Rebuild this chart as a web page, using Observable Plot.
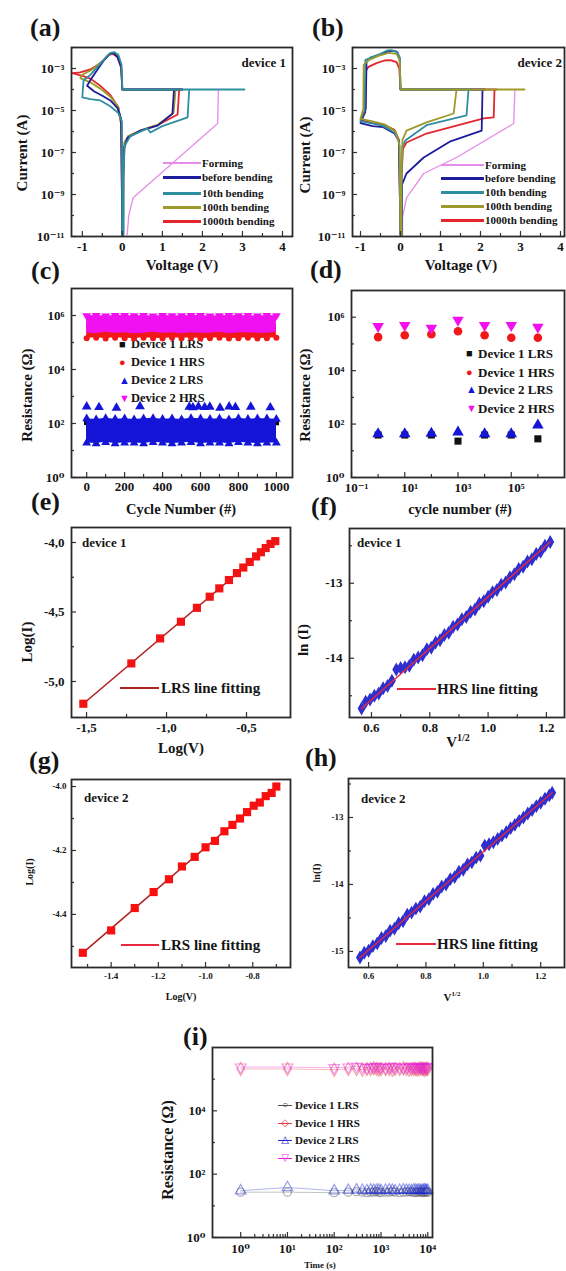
<!DOCTYPE html>
<html><head><meta charset="utf-8">
<script src="https://cdn.jsdelivr.net/npm/d3@7"></script>
<script src="https://cdn.jsdelivr.net/npm/@observablehq/plot@0.6"></script>
<style>
body{margin:0;background:#fff;}
#root{position:relative;width:566px;height:1271px;overflow:hidden;font-family:"Liberation Serif","DejaVu Serif",serif;font-weight:bold;color:#151515;}
.t{position:absolute;white-space:nowrap;line-height:1;}
.sw{position:absolute;}
svg.p{position:absolute;overflow:visible;}
</style></head><body><div id="root"></div>
<script>
// ---------- DATA ----------
// (a) device 1 I-V curves: [voltage V, current A]
const aForming = [[0.12,1.2e-11],[0.16,1.0e-10],[0.27,7.0e-10],[2.38,2.4e-6],[2.40,1.0e-4]];
const aBefore = [[0.02,1.2e-11],[0.02,5e-9],[0.04,1.5e-7],[0.13,5e-7],[0.45,1.1e-6],[0.88,1.9e-6],[1.25,7e-6],[1.29,1.0e-4],[1.5,1.0e-4],[0.0,1.0e-4],[-0.03,1.2e-3],[-0.12,3.5e-3],[-0.22,5.5e-3],[-0.32,5.0e-3],[-0.45,2.6e-3],[-0.62,9e-4],[-0.78,3.2e-4],[-0.88,1.5e-4],[-0.7,8e-5],[-0.5,5.0e-5],[-0.3,3.0e-5],[-0.12,1.3e-5],[-0.03,4e-6],[0,1.2e-11]];
const aTenth = [[0.03,1.2e-11],[0.03,1e-8],[0.05,2e-7],[0.2,6e-7],[0.63,1.4e-6],[0.70,9e-7],[1.0,1.8e-6],[1.63,4.7e-6],[1.67,1.0e-4],[3.05,1.0e-4],[0.0,1.0e-4],[-0.02,1.5e-3],[-0.1,4.5e-3],[-0.2,6.0e-3],[-0.3,5.5e-3],[-0.38,4.0e-3],[-0.6,1.3e-3],[-0.8,5e-4],[-0.97,2.7e-4],[-1.0,4.2e-5],[-0.8,3.5e-5],[-0.55,3.0e-5],[-0.3,1.6e-5],[-0.1,7.5e-6],[-0.01,3e-6],[0.0,1.2e-11]];
const aHundredth = [[0.02,1.2e-11],[0.02,1e-8],[0.05,3e-7],[0.15,6e-7],[0.5,1.2e-6],[0.9,2.2e-6],[1.28,7.5e-6],[1.33,1.0e-4],[1.45,1.0e-4],[0.0,1.0e-4],[-0.03,1.3e-3],[-0.12,4e-3],[-0.22,5.5e-3],[-0.3,5e-3],[-0.5,2.2e-3],[-0.75,9e-4],[-1.0,5e-4],[-1.05,3.5e-4],[-0.8,2.2e-4],[-0.55,1.1e-4],[-0.3,4.5e-5],[-0.1,1.5e-5],[-0.02,2e-6],[0.0,1.2e-11]];
const aThousandth = [[0.02,1.2e-11],[0.03,1e-8],[0.06,3e-7],[0.15,6e-7],[0.5,1.2e-6],[0.9,2.1e-6],[1.38,6.5e-6],[1.42,1.0e-4],[1.5,1.0e-4],[0.0,1.0e-4],[-0.03,1.1e-3],[-0.12,3.5e-3],[-0.25,5e-3],[-0.35,4.2e-3],[-0.55,1.8e-3],[-0.8,9e-4],[-1.05,6.5e-4],[-1.25,6.0e-4],[-1.0,4.5e-4],[-0.8,3.3e-4],[-0.55,1.5e-4],[-0.3,5.5e-5],[-0.1,1.4e-5],[-0.03,2e-6],[0.0,1.2e-11]];
// (b) device 2 I-V curves
const bForming = [[0.05,1.2e-11],[0.05,8e-11],[0.15,7e-10],[0.58,1.0e-8],[1.4,5.8e-8],[2.83,2.4e-6],[2.86,1.0e-4]];
const bBefore = [[0.03,1.2e-11],[0.04,3e-9],[0.15,1e-8],[0.58,5.8e-8],[1.25,3.4e-7],[2.03,1.1e-6],[2.05,1.0e-4],[2.1,1.0e-4],[0.0,1.0e-4],[-0.02,3e-3],[-0.08,6e-3],[-0.2,7e-3],[-0.3,6.5e-3],[-0.45,5e-3],[-0.6,4e-3],[-0.75,3.3e-3],[-0.85,2e-3],[-0.87,1.2e-5],[-0.92,6e-6],[-1.0,2.5e-6],[-0.7,1.8e-6],[-0.43,1.6e-6],[-0.15,8e-7],[-0.04,3.5e-7],[0,1.2e-11]];
const bTenth = [[0.03,1.2e-11],[0.03,1e-8],[0.05,2e-7],[0.12,3.7e-7],[0.65,2.0e-6],[1.65,5.8e-6],[1.70,1.0e-4],[1.8,1.0e-4],[0.0,1.0e-4],[-0.02,3.5e-3],[-0.1,6.5e-3],[-0.25,7.5e-3],[-0.35,7e-3],[-0.5,5e-3],[-0.7,3.6e-3],[-0.88,2.5e-3],[-0.9,1e-5],[-0.97,5e-6],[-1.0,3e-6],[-0.75,2.5e-6],[-0.45,1.9e-6],[-0.15,9e-7],[-0.03,3e-7],[0,1.2e-11]];
const bHundredth = [[0.02,1.2e-11],[0.02,1e-8],[0.05,4e-7],[0.15,1.1e-6],[0.65,2.7e-6],[1.33,7.2e-6],[1.40,1.0e-4],[3.1,1.0e-4],[0.0,1.0e-4],[-0.02,2.5e-3],[-0.1,5e-3],[-0.3,5.5e-3],[-0.55,4e-3],[-0.8,2.5e-3],[-0.92,1.5e-3],[-0.93,1.2e-5],[-1.0,4e-6],[-0.7,3e-6],[-0.4,2.2e-6],[-0.12,1e-6],[-0.02,2e-7],[0,1.2e-11]];
const bThousandth = [[0.03,1.2e-11],[0.03,1e-8],[0.06,1.5e-7],[0.15,3e-7],[0.65,8e-7],[2.08,4.2e-6],[2.33,4.7e-6],[2.35,1.0e-4],[2.4,1.0e-4],[0.0,1.0e-4],[-0.03,1e-3],[-0.1,2e-3],[-0.25,2.5e-3],[-0.4,2.4e-3],[-0.6,1.8e-3],[-0.8,1.2e-3],[-0.86,8e-4],[-0.88,8e-6],[-1.0,3.5e-6],[-0.7,2.5e-6],[-0.4,2e-6],[-0.15,1.2e-6],[-0.04,4e-7],[0,1.2e-11]];
const curveNames = ["Forming","before bending","10th bending","100th bending","1000th bending"];
const curveColors = ["#e58de8","#1c1c9c","#2f8f9f","#9c9a2c","#e3262b"];

// (c) endurance: band edges (ohm) sampled along cycle number
const cCycle = [0,50,100,150,200,250,300,350,400,450,500,550,600,650,700,750,800,850,900,950,1000];
const c1LRShi = [110,104,115,108,112,100,109,116,105,111,107,113,102,110,114,106,109,112,104,111,108];
const c1LRSlo = [22,21,23,21,22,23,21,22,21,23,22,21,23,22,21,22,23,21,22,21,23];
const c1HRShi = [5.2e5,4.8e5,5.0e5,5.3e5,4.9e5,5.1e5,4.7e5,5.2e5,5.0e5,4.8e5,5.3e5,5.0e5,4.9e5,5.1e5,5.2e5,4.8e5,5.0e5,5.1e5,4.9e5,5.2e5,5.0e5];
const c1HRSlo = [1.45e5,1.5e5,1.4e5,1.5e5,1.45e5,1.4e5,1.5e5,1.45e5,1.4e5,1.5e5,1.45e5,1.5e5,1.4e5,1.45e5,1.5e5,1.4e5,1.45e5,1.5e5,1.4e5,1.45e5,1.5e5];
const c2LRShi = [150,140,155,145,150,140,150,155,145,150,140,155,150,145,150,140,155,145,150,150,145];
const c2LRSlo = [19,18,20,18,19,19,18,20,19,18,19,20,18,19,19,18,20,19,18,19,19];
const c2HRShi = [9.8e5,1.0e6,9.6e5,9.9e5,1.0e6,9.7e5,9.9e5,9.6e5,1.0e6,9.8e5,9.7e5,1.0e6,9.9e5,9.6e5,9.8e5,1.0e6,9.7e5,9.9e5,9.6e5,1.0e6,9.8e5];
const c2HRSlo = [2.3e5,2.1e5,2.4e5,2.2e5,2.3e5,2.1e5,2.2e5,2.4e5,2.2e5,2.3e5,2.1e5,2.3e5,2.2e5,2.2e5,2.4e5,2.1e5,2.3e5,2.3e5,2.2e5,2.2e5,2.4e5];
const cOutCycle = [0,65,157,281,541,560,589,622,649,703,751,784,865,968];
const cOutR = [420,400,380,430,410,390,420,400,410,380,420,400,410,390];

// (d) bending cycles
const dCycle = [1,10,100,1000,10000,100000,1000000];
const d1LRS = [39,39,39,23,39,39,28];
const d1HRS = [1.8e5,2.1e5,2.3e5,3.0e5,2.1e5,1.7e5,1.7e5];
const d2LRS = [43,43,45,50,43,43,91];
const d2HRS = [4.6e5,5.0e5,3.9e5,7.8e5,5.0e5,5.0e5,4.3e5];
const seriesNames = ["Device 1 LRS","Device 1 HRS","Device 2 LRS","Device 2 HRS"];

// (e) device 1 LRS log-log
const eLogV = [-1.52,-1.22,-1.04,-0.91,-0.81,-0.73,-0.67,-0.61,-0.56,-0.52,-0.48,-0.44,-0.41,-0.38,-0.35,-0.32];
const eLogI = [-5.16,-4.87,-4.69,-4.57,-4.47,-4.39,-4.33,-4.27,-4.22,-4.18,-4.14,-4.10,-4.07,-4.04,-4.01,-3.99];
const eFitV = [-1.52,-0.32], eFitI = [-5.16,-3.99];
// (f) device 1 HRS ln(I) vs V^1/2
const fSqrtV = [0.566,0.58,0.595,0.61,0.625,0.64,0.655,0.67,0.685,0.70,0.715,0.73,0.745,0.76,0.775,0.79,0.805,0.82,0.835,0.85,0.865,0.88,0.895,0.91,0.925,0.94,0.955,0.97,0.985,1.0,1.015,1.03,1.045,1.06,1.075,1.09,1.105,1.12,1.135,1.15,1.165,1.18,1.195,1.213];
const fLnI = [-14.67,-14.58,-14.55,-14.50,-14.47,-14.40,-14.37,-14.30,-14.15,-14.13,-14.12,-14.10,-14.02,-13.99,-13.96,-13.88,-13.86,-13.79,-13.76,-13.69,-13.66,-13.58,-13.55,-13.48,-13.45,-13.38,-13.35,-13.27,-13.24,-13.18,-13.12,-13.09,-13.02,-12.99,-12.92,-12.88,-12.81,-12.78,-12.71,-12.68,-12.61,-12.58,-12.50,-12.45];
const fFitX = [0.566,1.213], fFitY = [-14.67,-12.45];
// (g) device 2 LRS
const gLogV = [-1.52,-1.40,-1.30,-1.22,-1.155,-1.10,-1.046,-1.0,-0.96,-0.92,-0.886,-0.854,-0.824,-0.796,-0.77,-0.745,-0.72,-0.70];
const gLogI = [-4.52,-4.45,-4.38,-4.33,-4.29,-4.25,-4.22,-4.19,-4.17,-4.14,-4.12,-4.10,-4.08,-4.06,-4.05,-4.03,-4.02,-4.00];
const gFitV = [-1.52,-0.70], gFitI = [-4.52,-4.00];
// (h) device 2 HRS
const hSqrtV = [0.57,0.585,0.60,0.615,0.63,0.645,0.66,0.675,0.69,0.705,0.72,0.735,0.75,0.765,0.78,0.795,0.81,0.825,0.84,0.855,0.87,0.885,0.90,0.915,0.93,0.945,0.96,0.975,0.99,1.005,1.02,1.035,1.05,1.065,1.08,1.095,1.11,1.125,1.14,1.155,1.17,1.185,1.20,1.215,1.23,1.24];
const hLnI = [-15.09,-15.02,-14.99,-14.92,-14.88,-14.80,-14.77,-14.69,-14.66,-14.58,-14.55,-14.45,-14.42,-14.36,-14.33,-14.25,-14.22,-14.14,-14.11,-14.03,-14.00,-13.92,-13.89,-13.81,-13.78,-13.70,-13.67,-13.60,-13.57,-13.42,-13.40,-13.37,-13.32,-13.27,-13.22,-13.16,-13.11,-13.05,-13.00,-12.94,-12.89,-12.83,-12.78,-12.72,-12.67,-12.63];
const hFitX = [0.57,1.24], hFitY = [-15.09,-12.63];
// (i) retention
const iTime = [1,10,100,200,300,400,500,600,700,800,900,1000,1250,1500,1750,2000,2500,3000,3500,4000,4500,5000,5500,6000,6500,7000,7500,8000,8500,9000,9500,10000];
const i1LRS = [27,27,26,27,28,27,26,27,27,28,27,26,27,27,28,27,26,27,27,28,27,27,26,27,28,27,27,26,27,28,27,27];
const i1HRS = [2.1e5,2.1e5,2.0e5,2.1e5,2.1e5,2.0e5,2.1e5,2.1e5,2.2e5,2.1e5,2.0e5,2.1e5,2.1e5,2.1e5,2.0e5,2.1e5,2.1e5,2.2e5,2.1e5,2.0e5,2.1e5,2.1e5,2.1e5,2.0e5,2.1e5,2.2e5,2.1e5,2.1e5,2.0e5,2.1e5,2.1e5,2.1e5];
const i2LRS = [30,38,30,31,32,31,30,32,31,31,32,30,31,32,31,30,31,32,31,31,30,32,31,31,32,30,31,31,32,31,30,31];
const i2HRS = [2.4e5,2.4e5,2.3e5,2.4e5,2.5e5,2.4e5,2.3e5,2.4e5,2.4e5,2.5e5,2.4e5,2.4e5,2.3e5,2.4e5,2.5e5,2.4e5,2.4e5,2.3e5,2.4e5,2.5e5,2.4e5,2.4e5,2.3e5,2.4e5,2.4e5,2.5e5,2.4e5,2.3e5,2.4e5,2.4e5,2.5e5,2.4e5];

// tick values
const aXt = [-1,0,1,2,3,4], aXm = [-0.5,0.5,1.5,2.5,3.5];
const ivYt = [1e-11,1e-9,1e-7,1e-5,1e-3], ivYm = [1e-10,1e-8,1e-6,1e-4,1e-2];
const cXt = [0,200,400,600,800,1000], cXm = [100,300,500,700,900];
const rYt = [1,1e2,1e4,1e6], rYm = [10,1e3,1e5];
const dXt = [0.1,10,1e3,1e5], dXm = [1,100,1e4,1e6];
const eXt = [-1.5,-1.0,-0.5], eXm = [-1.25,-0.75], eYt = [-5.0,-4.5,-4.0], eYm = [-4.75,-4.25];
const fXt = [0.6,0.8,1.0,1.2], fXm = [0.7,0.9,1.1], fYt = [-14,-13], fYm = [-14.5,-13.5,-12.5];
const gXt = [-1.4,-1.2,-1.0,-0.8], gXm = [-1.5,-1.3,-1.1,-0.9,-0.7], gYt = [-4.4,-4.2,-4.0], gYm = [-4.5,-4.3,-4.1];
const hXt = [0.6,0.8,1.0,1.2], hXm = [0.7,0.9,1.1], hYt = [-15,-14,-13], hYm = [-14.5,-13.5,-12.5];
const iXt = [1,10,100,1e3,1e4], iXm = [2,3,4,5,6,7,8,9,20,30,40,50,60,70,80,90,200,300,400,500,600,700,800,900,2000,3000,4000,5000,6000,7000,8000,9000];
const iYt = [1,1e2,1e4], iYm = [10,1e3,1e5];

// ---------- helpers ----------
const root = document.getElementById("root");
const sup = {"-":"⁻","0":"⁰","1":"¹","2":"²","3":"³","4":"⁴","5":"⁵","6":"⁶","7":"⁷","8":"⁸","9":"⁹"};
const p10 = v => "10" + String(Math.round(Math.log10(v))).split("").map(c => sup[c]).join("");
const comma1 = v => v.toFixed(1).replace(".", ",");
const dot1 = v => v.toFixed(1);
const int0 = v => String(Math.round(v));
const triDown = {draw(ctx, size) { const y = -Math.sqrt(size / (Math.sqrt(3) * 3)); ctx.moveTo(0, -2 * y); ctx.lineTo(-Math.sqrt(3) * y, y); ctx.lineTo(Math.sqrt(3) * y, y); ctx.closePath(); }};
const pairs = (xs, ys) => xs.map((x, i) => ({x, y: ys[i]}));

function panel(fr, x, y, marksFn) {
  const [x0, y0, x1, y1] = fr, m = 4, W = x1 - x0, H = y1 - y0;
  const svg = Plot.plot({
    width: W + 2 * m, height: H + 2 * m,
    marginLeft: m, marginRight: m, marginTop: m, marginBottom: m,
    x, y,
    style: {background: "transparent", fontFamily: "Liberation Serif, DejaVu Serif, serif", fontWeight: "bold", color: "#151515", overflow: "visible"},
    marks: marksFn(W, H)
  });
  svg.classList.add("p");
  svg.style.left = (x0 - m) + "px";
  svg.style.top = (y0 - m) + "px";
  root.appendChild(svg);
}
function axes(W, H, xt, xm, yt, ym, xf, yf, fs, px = 4, py = 6, xdx = 0) {
  const tk = {stroke: "#333", strokeWidth: 1.2};
  return [
    Plot.tickX(xt, {x: d => d, insetTop: H - 5, ...tk}),
    Plot.tickX(xm, {x: d => d, insetTop: H - 3, ...tk}),
    Plot.tickY(yt, {y: d => d, insetRight: W - 5, ...tk}),
    Plot.tickY(ym, {y: d => d, insetRight: W - 3, ...tk}),
    Plot.axisX(xt, {tickSize: 0, tickPadding: px, tickFormat: xf, fontSize: fs, label: null, dx: xdx}),
    Plot.axisY(yt, {tickSize: 0, tickPadding: py, tickFormat: yf, fontSize: fs, label: null}),
    Plot.frame({stroke: "#2a2a2a", strokeWidth: 1.8})
  ];
}
function txt(s, x, y, o = {}) {
  const d = document.createElement("div");
  d.className = "t";
  if (o.html) d.innerHTML = s; else d.textContent = s;
  d.style.fontSize = (o.size || 14) + "px";
  if (o.color) d.style.color = o.color;
  const tx = o.anchor === "middle" ? "-50%" : o.anchor === "end" ? "-100%" : "0";
  d.style.left = x + "px"; d.style.top = y + "px";
  d.style.transform = `translate(${o.rot ? "-50%" : tx},-50%)` + (o.rot ? ` rotate(${o.rot}deg)` : "");
  root.appendChild(d);
  return d;
}
function swatch(x0, x1, y, color, w) {
  const d = document.createElement("div");
  d.className = "sw";
  d.style.left = x0 + "px"; d.style.width = (x1 - x0) + "px";
  d.style.top = (y - w / 2) + "px"; d.style.height = w + "px";
  d.style.background = color;
  root.appendChild(d);
}

// ---------- (a) ----------
const aCurves = [aForming, aThousandth, aHundredth, aBefore, aTenth];
const aCols = [curveColors[0], curveColors[4], curveColors[3], curveColors[1], curveColors[2]];
panel([71, 47, 292, 236], {domain: [-1.27, 4.25]}, {type: "log", domain: [1e-11, 1e-2]}, (W, H) => [
  ...aCurves.map((c, i) => Plot.line(c, {x: d => d[0], y: d => d[1], stroke: aCols[i], strokeWidth: i === 0 ? 1.3 : 1.8, clip: true})),
  ...axes(W, H, aXt, aXm, ivYt, ivYm, int0, p10, 13, 5, 7)
]);
// (b)
const bCurves = [bForming, bThousandth, bBefore, bTenth, bHundredth];
const bCols = [curveColors[0], curveColors[4], curveColors[1], curveColors[2], curveColors[3]];
panel([352, 47, 564, 236], {domain: [-1.2, 4.1]}, {type: "log", domain: [1e-11, 1e-2]}, (W, H) => [
  ...bCurves.map((c, i) => Plot.line(c, {x: d => d[0], y: d => d[1], stroke: bCols[i], strokeWidth: i === 0 ? 1.3 : 1.8, clip: true})),
  ...axes(W, H, aXt, aXm, ivYt, ivYm, int0, p10, 13, 5, 7)
]);

// (c) legend drawn beneath data
const legC = [["■", "#111"], ["●", "#f01818"], ["▲", "#1515d8"], ["▼", "#f010f0"]];
const cRows = [344, 362, 380, 398];
legC.forEach(([g, col], i) => { txt(g, 119, cRows[i], {size: 11, color: col}); txt(seriesNames[i], 131, cRows[i], {size: 12.5}); });
const band = (lo, hi) => cCycle.map((c, i) => ({c, lo: lo[i], hi: hi[i]}));
panel([71, 288, 292, 477], {domain: [-80, 1085]}, {type: "log", domain: [1, 1e7]}, (W, H) => [
  Plot.areaY(band(c1LRSlo, c1LRShi), {x: "c", y1: "lo", y2: "hi", fill: "#111"}),
  Plot.dot(pairs(cCycle, c1LRShi), {x: "x", y: "y", symbol: "square", r: 3, fill: "#111"}),
  Plot.areaY(band(c1HRSlo, c1HRShi), {x: "c", y1: "lo", y2: "hi", fill: "#f01818"}),
  Plot.dot(pairs(cCycle, c1HRSlo), {x: "x", y: "y", symbol: "circle", r: 3, fill: "#f01818"}),
  Plot.areaY(band(c2LRSlo, c2LRShi), {x: "c", y1: "lo", y2: "hi", fill: "#1515d8"}),
  Plot.dot(pairs(cCycle, c2LRShi), {x: "x", y: "y", symbol: "triangle", r: 3.3, fill: "#1515d8"}),
  Plot.dot(pairs(cCycle, c2LRSlo), {x: "x", y: "y", symbol: "triangle", r: 3.3, fill: "#1515d8"}),
  Plot.dot(pairs(cOutCycle, cOutR), {x: "x", y: "y", symbol: "triangle", r: 3.6, fill: "#1515d8"}),
  Plot.areaY(band(c2HRSlo, c2HRShi), {x: "c", y1: "lo", y2: "hi", fill: "#f010f0"}),
  Plot.dot(pairs(cCycle, c2HRShi), {x: "x", y: "y", symbol: triDown, r: 3.3, fill: "#f010f0"}),
  ...axes(W, H, cXt, cXm, rYt, rYm, int0, p10, 13, 4, 7)
]);
// (d)
panel([351, 290, 564, 477], {type: "log", domain: [0.1, 1e7]}, {type: "log", domain: [1, 1e7]}, (W, H) => [
  Plot.dot(pairs(dCycle, d1LRS), {x: "x", y: "y", symbol: "square", r: 4, fill: "#111"}),
  Plot.dot(pairs(dCycle, d1HRS), {x: "x", y: "y", symbol: "circle", r: 4.3, fill: "#f01818"}),
  Plot.dot(pairs(dCycle, d2LRS), {x: "x", y: "y", symbol: "triangle", r: 4.3, fill: "#1515d8"}),
  Plot.dot(pairs(dCycle, d2HRS), {x: "x", y: "y", symbol: triDown, r: 4.3, fill: "#f010f0"}),
  ...axes(W, H, dXt, dXm, rYt, rYm, p10, p10, 13, 5, 7, 5)
]);
const dRows = [353, 372, 389, 408];
legC.forEach(([g, col], i) => { txt(g, 466, dRows[i], {size: 11, color: col}); txt(seriesNames[i], 478, dRows[i], {size: 13}); });

// (e)
panel([71, 527, 290, 717], {domain: [-1.594, -0.225]}, {domain: [-5.259, -3.892]}, (W, H) => [
  Plot.line(pairs(eFitV, eFitI), {x: "x", y: "y", stroke: "#b02424", strokeWidth: 1.6}),
  Plot.dot(pairs(eLogV, eLogI), {x: "x", y: "y", symbol: "square", r: 4.6, fill: "#f21414"}),
  ...axes(W, H, eXt, eXm, eYt, eYm, comma1, comma1, 13, 5, 7)
]);
// (f)
panel([349, 528, 564, 717], {domain: [0.5246, 1.262]}, {domain: [-14.79, -12.27]}, (W, H) => [
  Plot.dot(pairs(fSqrtV, fLnI), {x: "x", y: "y", symbol: "diamond", r: 4.2, fill: "#2f2fd0"}),
  Plot.line(pairs(fFitX, fFitY), {x: "x", y: "y", stroke: "#e8283c", strokeWidth: 1.4}),
  ...axes(W, H, fXt, fXm, fYt, fYm, dot1, int0, 13, 5, 7)
]);
// (g)
panel([71, 779, 290, 967], {domain: [-1.568, -0.64]}, {domain: [-4.566, -3.978]}, (W, H) => [
  Plot.line(pairs(gFitV, gFitI), {x: "x", y: "y", stroke: "#b02424", strokeWidth: 1.6}),
  Plot.dot(pairs(gLogV, gLogI), {x: "x", y: "y", symbol: "square", r: 4.6, fill: "#f81010"}),
  ...axes(W, H, gXt, gXm, gYt, gYm, dot1, dot1, 9, 5, 5)
]);
// (h)
panel([348, 778, 564, 967], {domain: [0.53, 1.283]}, {domain: [-15.24, -12.418]}, (W, H) => [
  Plot.dot(pairs(hSqrtV, hLnI), {x: "x", y: "y", symbol: "diamond", r: 4.2, fill: "#2f2fd0"}),
  Plot.line(pairs(hFitX, hFitY), {x: "x", y: "y", stroke: "#e8283c", strokeWidth: 1.3}),
  ...axes(W, H, hXt, hXm, hYt, hYm, dot1, int0, 9, 5, 5)
]);
// (i)
const iSeries = [[i1LRS, "circle", "#505050"], [i2LRS, "triangle", "#1a2ad0"], [i1HRS, "diamond", "#e33a4a"], [i2HRS, triDown, "#e61ee0"]];
panel([212, 1047, 432, 1237], {type: "log", domain: [0.25, 1.26e4]}, {type: "log", domain: [1, 1e6]}, (W, H) => [
  ...iSeries.map(([v, s, c]) => Plot.line(pairs(iTime, v), {x: "x", y: "y", stroke: c, strokeOpacity: 0.35, strokeWidth: 1})),
  ...iSeries.map(([v, s, c]) => Plot.dot(pairs(iTime, v), {x: "x", y: "y", symbol: s, r: 4, stroke: c, strokeOpacity: 0.45, strokeWidth: 1.2, fill: "none"})),
  ...axes(W, H, iXt, iXm, iYt, iYm, p10, p10, 13, 6, 7)
]);

// ---------- text ----------
const P = 26;
txt("(a)", 30, 28, {size: P}); txt("(b)", 312, 28, {size: P});
txt("(c)", 31, 271, {size: P}); txt("(d)", 310, 270, {size: P});
txt("(e)", 31, 502, {size: P}); txt("(f)", 311, 507, {size: P});
txt("(g)", 29, 761, {size: P}); txt("(h)", 305, 758, {size: P});
txt("(i)", 183, 1037, {size: P});

txt("Current (A)", 22, 153, {size: 15, rot: -90}); txt("Current (A)", 305, 155, {size: 15, rot: -90});
txt("Voltage (V)", 182, 265, {size: 15, anchor: "middle"}); txt("Voltage (V)", 461, 265, {size: 15, anchor: "middle"});
txt("device 1", 286, 62, {size: 13, anchor: "end"}); txt("device 2", 562, 62, {size: 13, anchor: "end"});
const abRowsA = [163, 177, 193, 207, 221], abRowsB = [165, 178, 192, 206, 220];
curveNames.forEach((n, i) => {
  swatch(163, 201, abRowsA[i], curveColors[i], i === 0 ? 1.5 : 3);
  txt(n, 202, abRowsA[i], {size: 11});
  swatch(441, 484, abRowsB[i], curveColors[i], i === 0 ? 1.5 : 3);
  txt(n, 485, abRowsB[i], {size: 11});
});

txt("Resistance (Ω)", 27, 395, {size: 15, rot: -90}); txt("Resistance (Ω)", 305, 395, {size: 15, rot: -90});
txt("Cycle Number (#)", 181, 509, {size: 14.5, anchor: "middle"});
txt("cycle number (#)", 460, 509, {size: 14.5, anchor: "middle"});

txt("Log(I)", 27, 642, {size: 15, rot: -90}); txt("Log(V)", 181, 748, {size: 15, anchor: "middle"});
txt("device 1", 82, 542, {size: 13}); 
swatch(120, 159, 688, "#b02424", 2.2); txt("LRS line fitting", 161, 688, {size: 15});
txt("ln (I)", 303, 640, {size: 15, rot: -90}); txt("V<sup style='font-size:10px'>1/2</sup>", 458, 741, {size: 15, anchor: "middle", html: true});
txt("device 1", 357, 542, {size: 13});
swatch(397, 436, 689, "#e8283c", 2.2); txt("HRS line fitting", 437, 689, {size: 15});

txt("Log(I)", 30, 872, {size: 10, rot: -90}); txt("Log(V)", 181, 997, {size: 10, anchor: "middle"});
txt("device 2", 84, 797, {size: 13});
swatch(121, 159, 945, "#e8283c", 2.2); txt("LRS line fitting", 161, 945, {size: 15});
txt("ln(I)", 317, 873, {size: 10, rot: -90}); txt("V<sup style='font-size:7px'>1/2</sup>", 452, 997, {size: 11, anchor: "middle", html: true});
txt("device 2", 361, 798, {size: 13});
swatch(396, 436, 944, "#e8283c", 2.2); txt("HRS line fitting", 437, 944, {size: 15});

txt("Resistance (Ω)", 168, 1150, {size: 16, rot: -90});
txt("Time (s)", 320, 1265, {size: 9, anchor: "middle"});
const iLeg = [["○", "#505050"], ["◇", "#e33a4a"], ["△", "#1a2ad0"], ["▽", "#e61ee0"]];
const iRows = [1105, 1123, 1140, 1158];
iLeg.forEach(([g, c], i) => {
  swatch(278, 292, iRows[i], c, 1);
  txt(g, 285, iRows[i], {size: 10, color: c, anchor: "middle"});
  txt(seriesNames[i], 295, iRows[i], {size: 11});
});
</script></body></html>
